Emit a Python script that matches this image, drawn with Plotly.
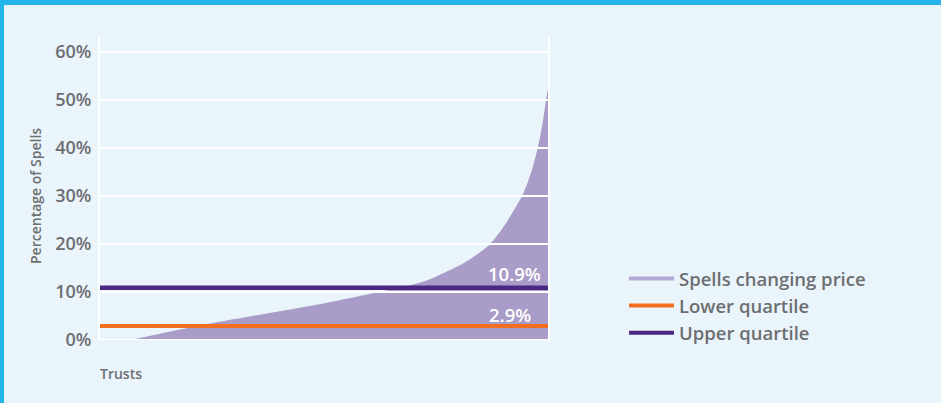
import plotly.graph_objects as go

# ---- data ----
trust_rank = [10, 20, 30, 40, 50, 60, 70, 80, 90, 100, 105, 110, 115, 120, 125, 130,
              133, 136, 139, 141, 143, 144.5, 146, 147, 148, 149, 149.7]
spells_changing_price = [0, 1.3, 2.6, 3.8, 4.9, 6.0, 7.1, 8.3, 9.6, 10.9, 11.6, 12.6,
                         14.0, 15.5, 17.4, 19.8, 22.0, 24.7, 27.8, 30.0, 33.0, 35.8,
                         39.4, 42.3, 45.7, 50.0, 52.4]
quartile_x = [0, 150]
lower_quartile = 2.9
upper_quartile = 10.9
y_ticks = [0, 10, 20, 30, 40, 50, 60]
y_tick_labels = ["0%", "10%", "20%", "30%", "40%", "50%", "60%"]

# ---- style ----
BG = "#EAF5FB"
GREY = "#6D6E71"
AREA = "#A99CC8"
ORANGE = "#F26F21"
PURPLE = "#4B2784"
BLUE = "#24B6E9"
FONT = "Open Sans"

W, H = 941, 403
L, R, T, B = 100, 392, 37, 63
pw, ph = W - L - R, H - T - B

fig = go.Figure()

fig.add_trace(go.Scatter(
    x=trust_rank, y=spells_changing_price, mode="lines", fill="tozeroy",
    fillcolor=AREA, line=dict(width=0, color=AREA, shape="spline", smoothing=0.8),
    showlegend=False, hoverinfo="skip"))

fig.add_trace(go.Scatter(
    x=quartile_x, y=[lower_quartile] * 2, mode="lines",
    line=dict(color=ORANGE, width=4), showlegend=False))
fig.add_trace(go.Scatter(
    x=quartile_x, y=[upper_quartile] * 2, mode="lines",
    line=dict(color=PURPLE, width=4.5), showlegend=False))

# legend entries
fig.add_trace(go.Scatter(x=[None], y=[None], mode="lines", name="Spells changing price",
                         line=dict(color="#B3A7D3", width=4)))
fig.add_trace(go.Scatter(x=[None], y=[None], mode="lines", name="Lower quartile",
                         line=dict(color=ORANGE, width=4)))
fig.add_trace(go.Scatter(x=[None], y=[None], mode="lines", name="Upper quartile",
                         line=dict(color=PURPLE, width=4)))

def px_x(p):
    return (p - L) / pw

def px_y(p):
    return (H - B - p) / ph

shapes = []
# gridlines above the area
for v in y_ticks:
    shapes.append(dict(type="line", xref="paper", yref="y", x0=0, x1=1, y0=v, y1=v,
                       line=dict(color="white", width=2), layer="above"))
# right frame line
shapes.append(dict(type="line", xref="paper", yref="paper", x0=1, x1=1, y0=-0.005, y1=1,
                   line=dict(color="white", width=2), layer="above"))
# blue frame (top and left)
shapes.append(dict(type="rect", xref="paper", yref="paper", x0=px_x(-2), x1=px_x(W + 2),
                   y0=px_y(5), y1=px_y(-2), fillcolor=BLUE, line=dict(width=0), layer="above"))
shapes.append(dict(type="rect", xref="paper", yref="paper", x0=px_x(-2), x1=px_x(4),
                   y0=px_y(H + 2), y1=px_y(-2), fillcolor=BLUE, line=dict(width=0), layer="above"))

annotations = [
    dict(xref="paper", yref="y", x=1, y=upper_quartile, xanchor="right", yanchor="bottom",
         xshift=-6, yshift=0, text=f"{upper_quartile}%", showarrow=False,
         font=dict(family=FONT, size=18.5, color="white", weight=600)),
    dict(xref="paper", yref="y", x=1, y=lower_quartile, xanchor="right", yanchor="bottom",
         xshift=-16, yshift=-3, text=f"{lower_quartile}%", showarrow=False,
         font=dict(family=FONT, size=18.5, color="white", weight=600)),
    dict(xref="paper", yref="paper", x=px_x(98), y=px_y(373), xanchor="left", yanchor="middle",
         text="Trusts", showarrow=False,
         font=dict(family=FONT, size=14, color=GREY, weight=600)),
    dict(xref="paper", yref="paper", x=px_x(35), y=px_y(196), xanchor="center",
         yanchor="middle", textangle=-90, text="Percentage of Spells", showarrow=False,
         font=dict(family=FONT, size=14, color=GREY, weight=600)),
]

fig.update_layout(
    width=W, height=H,
    margin=dict(l=L, r=R, t=T, b=B),
    paper_bgcolor=BG, plot_bgcolor=BG,
    font=dict(family=FONT, color=GREY),
    xaxis=dict(range=[0, 150], showgrid=False, zeroline=False, showticklabels=False,
               showline=False, fixedrange=True),
    yaxis=dict(range=[0, 63.1], tickvals=y_ticks, ticktext=y_tick_labels,
               showgrid=False, zeroline=False, showline=True, linecolor="white",
               linewidth=2, ticks="", ticklabelstandoff=3,
               tickfont=dict(family=FONT, size=18, color=GREY, weight=600),
               fixedrange=True),
    legend=dict(x=px_x(624), y=px_y(260), xanchor="left", yanchor="top",
                bgcolor="rgba(0,0,0,0)", itemwidth=45,
                font=dict(family=FONT, size=18.5, color=GREY, weight=600),
                tracegroupgap=0),
    shapes=shapes,
    annotations=annotations,
    showlegend=True,
)

fig.write_html("out.html", config={"displayModeBar": False},
               post_script="document.body.style.margin='0px';")
